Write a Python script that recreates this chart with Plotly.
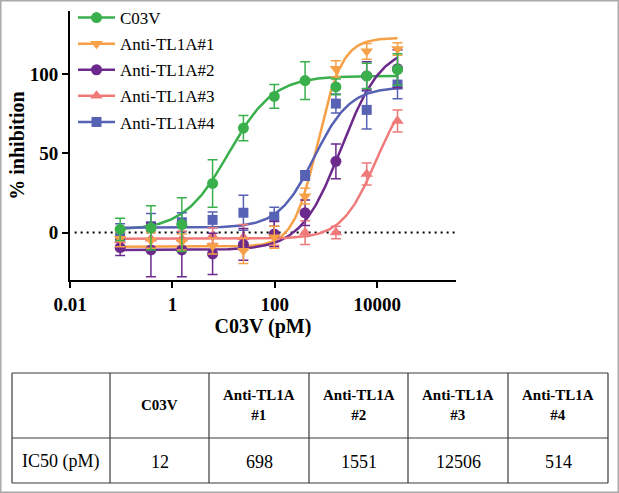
import numpy as np
import plotly.graph_objects as go

# ---- data ----
conc_pM = [0.0954, 0.381, 1.53, 6.10, 24.4, 97.7, 391, 1563, 6250, 25000]

series_names = ["C03V", "Anti-TL1A#1", "Anti-TL1A#2", "Anti-TL1A#3", "Anti-TL1A#4"]

c03v_mean = [2, 3, 5, 31, 66, 86, 96, 92, 99, 103]
c03v_err = [7, 14, 17, 15, 8, 7.5, 12, 5, 8, 10]

tl1a1_mean = [-4, -5, -6, -8.5, -11.5, -3, 23, 103.5, 114.5, 116]
tl1a1_err = [5, 5, 5, 5, 8, 7, 5, 5, 5, 4]

tl1a2_mean = [-9.5, -11, -11, -13.5, -7.5, -1, 12.5, 45, 99, 103.5]
tl1a2_err = [5, 17, 17, 13, 10, 8, 8, 11, 9, 12]

tl1a3_mean = [-5, -4, -4, -2, -3, -2, 0, 0, 37, 70.5]
tl1a3_err = [5, 5, 5, 5, 8, 6, 7.5, 4, 7, 7]

tl1a4_mean = [-2.5, 4, 6.5, 8, 12.5, 10, 36, 81.5, 77.5, 93.5]
tl1a4_err = [8, 8, 6, 5, 11, 6, 3, 6, 12, 9]

# 4-parameter logistic fit parameters (estimated from the drawn curves)
fit_bottom = [1.5, -9, -11, -4, 3]
fit_top = [99, 123, 118, 95, 92]
fit_log_ic50 = [1.1, 2.84, 3.3, 3.98, 2.77]
fit_hill = [1.0, 1.8, 1.1, 1.3, 1.25]

# table
table_header = ["", "C03V", "Anti-TL1A<br>#1", "Anti-TL1A<br>#2", "Anti-TL1A<br>#3", "Anti-TL1A<br>#4"]
table_row_label = "IC50 (pM)"
ic50_values = ["12", "698", "1551", "12506", "514"]

x_tick_vals = [0.01, 1, 100, 10000]
x_tick_text = ["0.01", "1", "100", "10000"]
y_tick_vals = [0, 50, 100]

# ---- styling ----
colors = ["rgb(58,176,76)", "rgb(247,160,72)", "rgb(108,42,140)", "rgb(240,122,122)", "rgb(88,98,180)"]
symbols = ["circle", "triangle-down", "circle", "triangle-up", "square"]
msizes = [11, 11, 11, 11, 10]
means = [c03v_mean, tl1a1_mean, tl1a2_mean, tl1a3_mean, tl1a4_mean]
errs = [c03v_err, tl1a1_err, tl1a2_err, tl1a3_err, tl1a4_err]

SERIF = "Liberation Serif"
W, H = 619, 493
PL, PR, PT, PB = 70, 456, 11, 280

# table layout (pixels)
TBL_LEFT = 12
TBL_COL_W = [98, 99, 100, 99, 100, 100]
TBL_TOP, TBL_MID, TBL_BOT = 373, 438, 483

fig = go.Figure()

xs = np.logspace(np.log10(conc_pM[0]), np.log10(conc_pM[-1]), 200)
for i in range(5):
    yfit = fit_bottom[i] + (fit_top[i] - fit_bottom[i]) / (1 + 10 ** ((fit_log_ic50[i] - np.log10(xs)) * fit_hill[i]))
    fig.add_trace(go.Scatter(x=xs, y=yfit, mode="lines", line=dict(color=colors[i], width=2.5),
                             showlegend=False, hoverinfo="skip"))

for i in reversed(range(5)):
    fig.add_trace(go.Scatter(
        x=conc_pM, y=means[i], mode="markers", name=series_names[i],
        marker=dict(symbol=symbols[i], size=msizes[i], color=colors[i]),
        error_y=dict(type="data", array=errs[i], color=colors[i], thickness=1.5, width=5),
        showlegend=False))

for i in range(5):
    fig.add_trace(go.Scatter(
        x=[None], y=[None], mode="lines+markers", name=series_names[i],
        legendgroup=series_names[i],
        line=dict(color=colors[i], width=2.5),
        marker=dict(symbol=symbols[i], size=msizes[i], color=colors[i])))

# ---- table built from shapes + annotations ----
def py(p):
    return 1 - p / H

def px(p):
    return p / W

bounds = [TBL_LEFT]
for w in TBL_COL_W:
    bounds.append(bounds[-1] + w)

shapes = [
    dict(type="line", xref="x domain", yref="y", x0=0.012, x1=1, y0=0, y1=0,
         line=dict(color="black", width=2, dash="2px,4px"), layer="below"),
    dict(type="rect", xref="paper", yref="paper", x0=0, x1=1, y0=0, y1=1,
         line=dict(color="#aaaaaa", width=3)),
]
tline = dict(color="#3a3a3a", width=1.2)
for yy in (TBL_TOP, TBL_MID, TBL_BOT):
    shapes.append(dict(type="line", xref="paper", yref="paper",
                       x0=px(bounds[0]), x1=px(bounds[-1]), y0=py(yy), y1=py(yy), line=tline))
for xx in bounds:
    shapes.append(dict(type="line", xref="paper", yref="paper",
                       x0=px(xx), x1=px(xx), y0=py(TBL_TOP), y1=py(TBL_BOT), line=tline))

annotations = []
row_labels = [table_row_label] + ic50_values
for j in range(6):
    cx = px((bounds[j] + bounds[j + 1]) / 2)
    if table_header[j]:
        annotations.append(dict(
            x=cx, y=py((TBL_TOP + TBL_MID) / 2 - 1), xref="paper", yref="paper",
            text=table_header[j], showarrow=False, align="center",
            xanchor="center", yanchor="middle",
            font=dict(family=SERIF, size=15, color="black", weight="bold")))
    annotations.append(dict(
        x=cx, y=py((TBL_MID + TBL_BOT) / 2 + 1), xref="paper", yref="paper",
        text=row_labels[j], showarrow=False, align="center",
        xanchor="center", yanchor="middle",
        font=dict(family=SERIF, size=18, color="black")))

fig.update_layout(
    width=W, height=H,
    margin=dict(l=0, r=0, t=0, b=0, autoexpand=False),
    paper_bgcolor="white", plot_bgcolor="white",
    showlegend=True,
    legend=dict(x=73 / W, y=1, xanchor="left", yanchor="top",
                font=dict(family=SERIF, size=17, color="black"),
                bgcolor="rgba(0,0,0,0)", tracegroupgap=1, itemwidth=37),
    xaxis=dict(type="log", range=[-2, 5.54], domain=[PL / W, PR / W],
               showline=True, linecolor="black", linewidth=2,
               ticks="outside", ticklen=6, tickwidth=2, tickcolor="black",
               tickvals=x_tick_vals, ticktext=x_tick_text,
               tickfont=dict(family=SERIF, size=19, color="black", weight="bold"),
               showgrid=False, zeroline=False, automargin=False,
               title=dict(text="C03V (pM)", standoff=2,
                          font=dict(family=SERIF, size=20, color="black", weight="bold"))),
    yaxis=dict(range=[-30, 140], domain=[(H - PB) / H, (H - PT) / H],
               showline=True, linecolor="black", linewidth=2,
               ticks="outside", ticklen=6, tickwidth=2, tickcolor="black",
               tickvals=y_tick_vals,
               tickfont=dict(family=SERIF, size=19, color="black", weight="bold"),
               showgrid=False, zeroline=False, automargin=False,
               title=dict(text="% inhibition", standoff=0,
                          font=dict(family=SERIF, size=20, color="black", weight="bold"))),
    shapes=shapes,
    annotations=annotations,
)

fig.write_html("out.html", config={"displayModeBar": False},
               post_script="document.body.style.margin='0';document.body.style.overflow='hidden';")
